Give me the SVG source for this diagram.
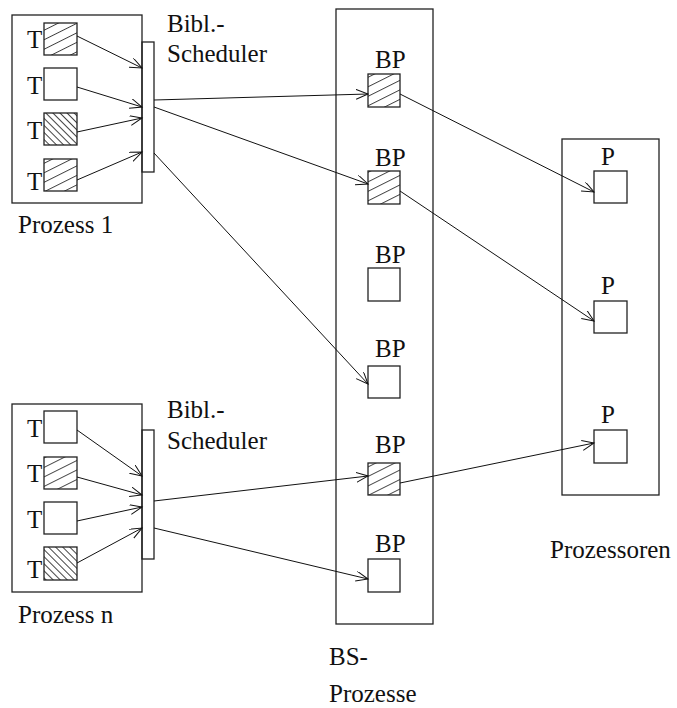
<svg xmlns="http://www.w3.org/2000/svg" width="677" height="708" viewBox="0 0 677 708">
<style>
  .box { fill: none; stroke: #222; stroke-width: 1.3; }
  .sq { stroke: #222; stroke-width: 1.3; }
  .lbl { font-family: "Liberation Serif", "Times New Roman", serif; font-size: 25px; fill: #111; }
  .conn line { stroke: #111; stroke-width: 1; marker-end: url(#arr); }
</style>
<defs>
  <marker id="arr" markerUnits="userSpaceOnUse" markerWidth="14" markerHeight="12" refX="12" refY="5" orient="auto">
    <path d="M0,0 L12,5 L0,10" fill="none" stroke="#111" stroke-width="1"/>
  </marker>
  <pattern id="rise" patternUnits="userSpaceOnUse" width="20" height="8.5" patternTransform="rotate(-26.57)">
    <rect width="20" height="8.5" fill="#fff"/>
    <line x1="0" y1="4.25" x2="20" y2="4.25" stroke="#444" stroke-width="1"/>
  </pattern>
  <pattern id="fall" patternUnits="userSpaceOnUse" width="10" height="5" patternTransform="rotate(45)">
    <rect width="10" height="5" fill="#fff"/>
    <line x1="0" y1="2.5" x2="10" y2="2.5" stroke="#444" stroke-width="1"/>
  </pattern>
</defs>
<rect width="677" height="708" fill="#fff"/>

<g id="prozess1">
  <rect class="box" x="12" y="15" width="130" height="188"/>
  <rect class="sq" x="44" y="23" width="33" height="32" fill="url(#rise)"/>
  <rect class="sq" x="44" y="68" width="33" height="32" fill="#fff"/>
  <rect class="sq" x="44" y="113" width="33" height="32" fill="url(#fall)"/>
  <rect class="sq" x="44" y="159" width="33" height="32" fill="url(#rise)"/>
  <text class="lbl" x="27" y="48">T</text>
  <text class="lbl" x="27" y="94">T</text>
  <text class="lbl" x="27" y="139">T</text>
  <text class="lbl" x="27" y="190">T</text>
  <text class="lbl" x="18" y="233">Prozess 1</text>
</g>
<g id="scheduler1">
  <rect class="box" x="142" y="42" width="12" height="130" fill="#fff"/>
  <text class="lbl" x="167" y="32">Bibl.-</text>
  <text class="lbl" x="167" y="62">Scheduler</text>
</g>

<g id="prozessn">
  <rect class="box" x="12" y="404" width="130" height="188"/>
  <rect class="sq" x="44" y="411" width="33" height="32" fill="#fff"/>
  <rect class="sq" x="44" y="457" width="33" height="32" fill="url(#rise)"/>
  <rect class="sq" x="44" y="502" width="33" height="32" fill="#fff"/>
  <rect class="sq" x="44" y="547" width="33" height="33" fill="url(#fall)"/>
  <text class="lbl" x="27" y="437">T</text>
  <text class="lbl" x="27" y="482">T</text>
  <text class="lbl" x="27" y="528">T</text>
  <text class="lbl" x="27" y="578">T</text>
  <text class="lbl" x="18" y="623">Prozess n</text>
</g>
<g id="schedulern">
  <rect class="box" x="142" y="430" width="12" height="129" fill="#fff"/>
  <text class="lbl" x="167" y="418">Bibl.-</text>
  <text class="lbl" x="167" y="449">Scheduler</text>
</g>

<g id="bs-prozesse">
  <rect class="box" x="336" y="9" width="97" height="615"/>
  <rect class="sq" x="368" y="74" width="32" height="33" fill="url(#rise)"/>
  <rect class="sq" x="368" y="171" width="32" height="33" fill="url(#rise)"/>
  <rect class="sq" x="368" y="268" width="32" height="33" fill="#fff"/>
  <rect class="sq" x="368" y="366" width="32" height="32" fill="#fff"/>
  <rect class="sq" x="368" y="463" width="32" height="32" fill="url(#rise)"/>
  <rect class="sq" x="368" y="559" width="32" height="33" fill="#fff"/>
  <text class="lbl" x="375" y="68">BP</text>
  <text class="lbl" x="375" y="166">BP</text>
  <text class="lbl" x="375" y="263">BP</text>
  <text class="lbl" x="375" y="357">BP</text>
  <text class="lbl" x="375" y="453">BP</text>
  <text class="lbl" x="375" y="552">BP</text>
  <text class="lbl" x="329" y="665">BS-</text>
  <text class="lbl" x="329" y="702">Prozesse</text>
</g>

<g id="prozessoren">
  <rect class="box" x="562" y="139" width="97" height="356"/>
  <rect class="sq" x="594" y="171" width="33" height="32" fill="#fff"/>
  <rect class="sq" x="594" y="301" width="33" height="32" fill="#fff"/>
  <rect class="sq" x="594" y="430" width="33" height="33" fill="#fff"/>
  <text class="lbl" x="601" y="165">P</text>
  <text class="lbl" x="601" y="294">P</text>
  <text class="lbl" x="601" y="423">P</text>
  <text class="lbl" x="550" y="558">Prozessoren</text>
</g>

<g id="connectors" class="conn">
  <line x1="77" y1="36" x2="142" y2="68"/>
  <line x1="77" y1="87" x2="142" y2="107"/>
  <line x1="77" y1="132" x2="142" y2="118"/>
  <line x1="77" y1="180" x2="142" y2="152"/>
  <line x1="154" y1="100" x2="368" y2="94"/>
  <line x1="154" y1="107" x2="368" y2="184"/>
  <line x1="154" y1="153" x2="368" y2="384"/>
  <line x1="400" y1="94" x2="594" y2="192"/>
  <line x1="400" y1="191" x2="594" y2="321"/>
  <line x1="400" y1="483" x2="594" y2="443"/>
  <line x1="77" y1="430" x2="142" y2="476"/>
  <line x1="77" y1="477" x2="142" y2="495"/>
  <line x1="77" y1="521" x2="142" y2="507"/>
  <line x1="77" y1="563" x2="142" y2="528"/>
  <line x1="154" y1="501" x2="368" y2="476"/>
  <line x1="154" y1="528" x2="368" y2="579"/>
</g>
</svg>
